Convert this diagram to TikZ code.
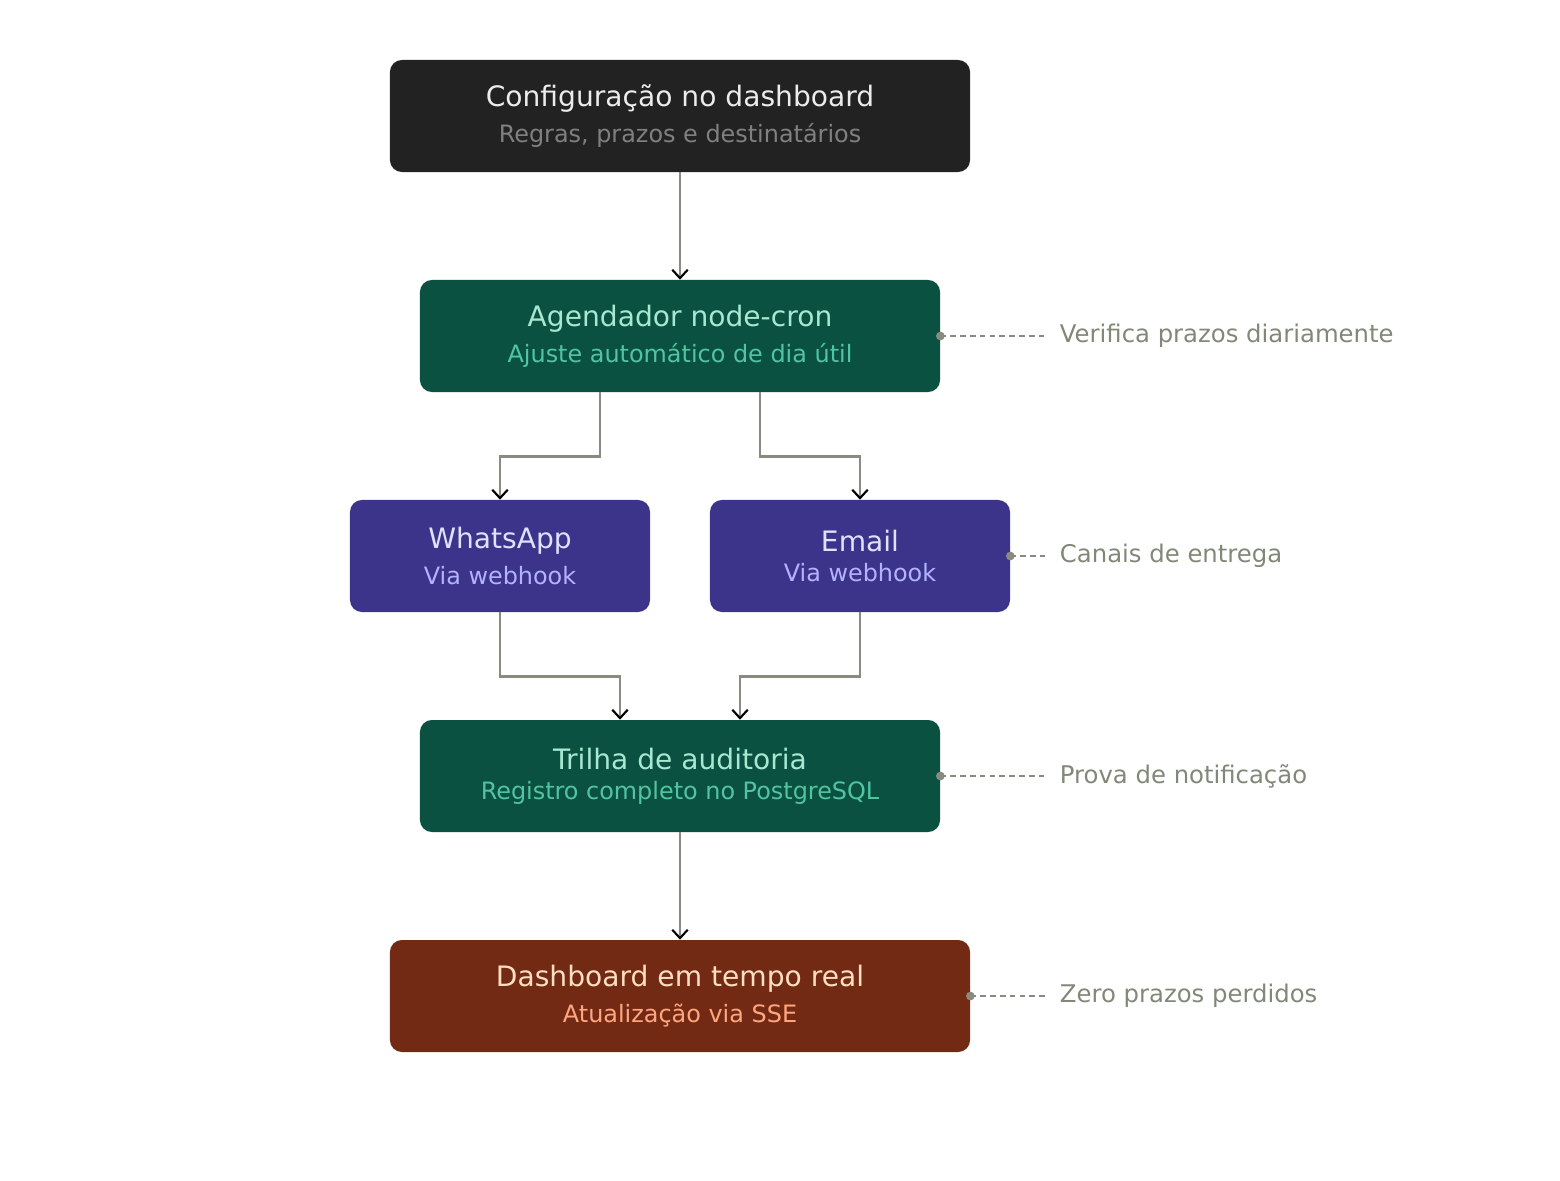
\documentclass[tikz,border=0pt]{standalone}
\usepackage{fontspec}
\setmainfont{DejaVu Sans}
\usetikzlibrary{arrows.meta,positioning,calc}

\definecolor{bgdark}{HTML}{222222}
\definecolor{bggreen}{HTML}{0A5142}
\definecolor{bgpurple}{HTML}{3C348A}
\definecolor{bgbrown}{HTML}{722A14}
\definecolor{linegray}{HTML}{8A8A80}
\definecolor{notegray}{HTML}{808878}
\definecolor{greentitle}{HTML}{A8E8D0}
\definecolor{greensub}{HTML}{52C4A0}

\newcommand{\twoline}[4]{{\fontsize{20}{23}\selectfont\color{#1}#3}\\[7pt]{\fontsize{17}{20}\selectfont\color{#2}#4}}

\tikzset{
    stage/.style={draw=none, rounded corners=0.3cm, minimum height=2.8cm, align=center},
    flow/.style={draw=linegray, line width=1.7pt, -{Straight Barb[black,length=6pt,width=11pt,line width=1.5pt]}},
    note/.style={draw=linegray, dash pattern=on 4pt off 3pt, line width=0.9pt},
    notetext/.style={anchor=west, text=notegray, font=\fontsize{17.3}{20}\selectfont},
    dot/.style={circle, fill=linegray, inner sep=2.2pt}
}

\begin{document}
\begin{tikzpicture}[x=0.025cm, y=-0.025cm]
    \useasboundingbox (0,0) rectangle (1560,1180);

    \node[stage, fill=bgdark, minimum width=14.5cm] (cfg) at (680,116)
        {\twoline{white!85!gray}{gray}{Configuração no dashboard}{Regras, prazos e destinatários}};
    \node[stage, fill=bggreen, minimum width=13cm] (agd) at (680,336)
        {\twoline{greentitle}{greensub}{Agendador node-cron}{Ajuste automático de dia útil}};
    \node[stage, fill=bgpurple, minimum width=7.5cm] (wa) at (500,556)
        {\twoline{blue!12!white}{blue!30!white}{WhatsApp}{Via webhook}};
    \node[stage, fill=bgpurple, minimum width=7.5cm] (em) at (860,556)
        {\twoline{blue!12!white}{blue!30!white}{Email}{Via webhook}};
    \node[stage, fill=bggreen, minimum width=13cm] (aud) at (680,776)
        {\twoline{greentitle}{greensub}{Trilha de auditoria}{Registro completo no PostgreSQL}};
    \node[stage, fill=bgbrown, minimum width=14.5cm] (dash) at (680,996)
        {\twoline{orange!25!white}{orange!60!red!50!white}{Dashboard em tempo real}{Atualização via SSE}};

    % connectors
    \draw[flow] (cfg.south) -- (agd.north);
    \draw[flow] ([xshift=-2cm]agd.south) -- ++(0,-1.6cm) -| (wa.north);
    \draw[flow] ([xshift=2cm]agd.south) -- ++(0,-1.6cm) -| (em.north);
    \draw[flow] (wa.south) -- ++(0,-1.6cm) -| ([xshift=-1.5cm]aud.north);
    \draw[flow] (em.south) -- ++(0,-1.6cm) -| ([xshift=1.5cm]aud.north);
    \draw[flow] (aud.south) -- (dash.north);

    % side notes
    \node[notetext] (n1) at (1055,336) {Verifica prazos diariamente};
    \node[notetext] (n2) at (1055,556) {Canais de entrega};
    \node[notetext] (n3) at (1055,776) {Prova de notificação};
    \node[notetext] (n4) at (1055,996) {Zero prazos perdidos};
    \draw[note] (agd.east) -- ([xshift=-0.2cm]n1.west);
    \draw[note] (em.east) -- ([xshift=-0.2cm]n2.west);
    \draw[note] (aud.east) -- ([xshift=-0.2cm]n3.west);
    \draw[note] (dash.east) -- ([xshift=-0.2cm]n4.west);
    \node[dot] at (agd.east) {};
    \node[dot] at (em.east) {};
    \node[dot] at (aud.east) {};
    \node[dot] at (dash.east) {};
\end{tikzpicture}
\end{document}
